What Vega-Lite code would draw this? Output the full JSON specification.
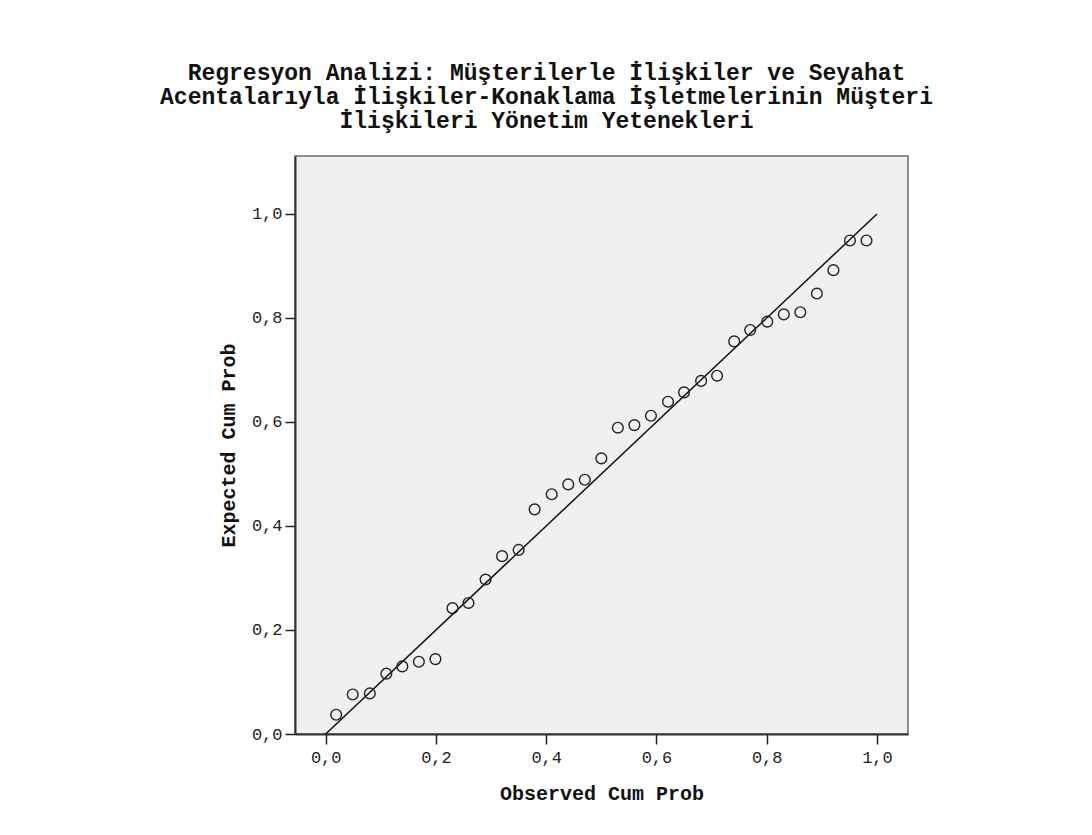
{
  "$schema": "https://vega.github.io/schema/vega-lite/v6.json",
  "width": 613,
  "height": 578,
  "autosize": "none",
  "padding": {"left": 295, "top": 156, "right": 184, "bottom": 101},
  "background": "white",
  "config": {
    "locale": {"number": {"decimal": ",", "thousands": ".", "grouping": [3], "currency": ["", " TL"]}},
    "view": {"fill": "#f0f0f0", "stroke": "#6a6a6a", "strokeWidth": 1.5},
    "axis": {
      "grid": false,
      "domainColor": "#333333",
      "domainWidth": 2,
      "tickColor": "#222222",
      "tickWidth": 1.5,
      "tickSize": 10,
      "labelFont": "Liberation Mono",
      "labelFontSize": 17,
      "labelColor": "#222222",
      "titleFont": "Liberation Mono",
      "titleFontSize": 20,
      "titleFontWeight": "bold",
      "titleColor": "#111111"
    }
  },
  "title": {
    "text": ["Regresyon Analizi: Müşterilerle İlişkiler ve Seyahat", "Acentalarıyla İlişkiler-Konaklama İşletmelerinin Müşteri", "İlişkileri Yönetim Yetenekleri"],
    "font": "Liberation Mono",
    "fontSize": 23,
    "fontWeight": "bold",
    "lineHeight": 24,
    "color": "#111111",
    "anchor": "middle",
    "frame": "group",
    "dx": -55,
    "offset": 23
  },
  "datasets": {
    "points": [
      {"observed": 0.019, "expected": 0.037},
      {"observed": 0.049, "expected": 0.076},
      {"observed": 0.080, "expected": 0.078},
      {"observed": 0.110, "expected": 0.116},
      {"observed": 0.139, "expected": 0.130},
      {"observed": 0.169, "expected": 0.139},
      {"observed": 0.199, "expected": 0.144},
      {"observed": 0.230, "expected": 0.242},
      {"observed": 0.259, "expected": 0.252},
      {"observed": 0.290, "expected": 0.297},
      {"observed": 0.320, "expected": 0.342},
      {"observed": 0.350, "expected": 0.354},
      {"observed": 0.379, "expected": 0.432},
      {"observed": 0.410, "expected": 0.461},
      {"observed": 0.440, "expected": 0.480},
      {"observed": 0.470, "expected": 0.489},
      {"observed": 0.500, "expected": 0.530},
      {"observed": 0.530, "expected": 0.589},
      {"observed": 0.560, "expected": 0.594},
      {"observed": 0.590, "expected": 0.612},
      {"observed": 0.621, "expected": 0.639},
      {"observed": 0.650, "expected": 0.657},
      {"observed": 0.681, "expected": 0.679},
      {"observed": 0.710, "expected": 0.689},
      {"observed": 0.741, "expected": 0.755},
      {"observed": 0.770, "expected": 0.777},
      {"observed": 0.801, "expected": 0.793},
      {"observed": 0.831, "expected": 0.807},
      {"observed": 0.861, "expected": 0.811},
      {"observed": 0.891, "expected": 0.847},
      {"observed": 0.921, "expected": 0.892},
      {"observed": 0.951, "expected": 0.949},
      {"observed": 0.981, "expected": 0.949}
    ],
    "reference": [
      {"observed": 0, "expected": 0},
      {"observed": 1, "expected": 1}
    ]
  },
  "layer": [
    {
      "data": {"name": "reference"},
      "mark": {"type": "line", "color": "#111111", "strokeWidth": 1.5},
      "encoding": {
        "x": {"field": "observed", "type": "quantitative"},
        "y": {"field": "expected", "type": "quantitative"}
      }
    },
    {
      "data": {"name": "points"},
      "mark": {"type": "point", "shape": "circle", "filled": false, "size": 115, "stroke": "#222222", "strokeWidth": 1.4, "opacity": 1},
      "encoding": {
        "x": {
          "field": "observed",
          "type": "quantitative",
          "scale": {"domain": [-0.0557, 1.0563], "nice": false, "zero": false},
          "axis": {"values": [0, 0.2, 0.4, 0.6, 0.8, 1.0], "format": ".1f", "title": "Observed Cum Prob", "labelPadding": 5, "titlePadding": 18}
        },
        "y": {
          "field": "expected",
          "type": "quantitative",
          "scale": {"domain": [0, 1.1115], "nice": false, "zero": false},
          "axis": {"values": [0, 0.2, 0.4, 0.6, 0.8, 1.0], "format": ".1f", "title": "Expected Cum Prob", "labelPadding": 3, "titlePadding": 13}
        }
      }
    }
  ]
}
